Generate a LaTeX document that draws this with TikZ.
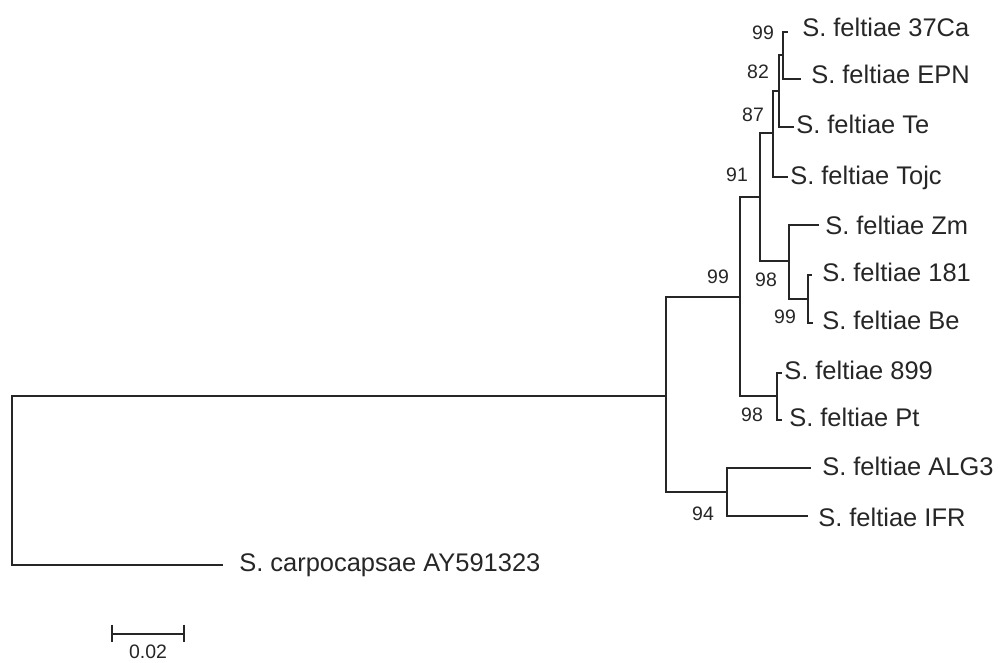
\documentclass[tikz,border=0pt]{standalone}
\usepackage{fontspec}
\setmainfont{Liberation Sans}
\begin{document}
\begin{tikzpicture}[x=0.75pt,y=-0.75pt,
  branch/.style={draw=black!85,line width=1.4pt,line cap=rect},
  leaf/.style={anchor=base west,inner sep=0pt,text=black!85,font=\fontsize{19.1}{23}\selectfont},
  boot/.style={anchor=center,inner sep=0pt,text=black!85,font=\fontsize{14.6}{17}\selectfont}]
\useasboundingbox (0,0) rectangle (1002,663);
% internal nodes
\coordinate (R) at (12,480);
\coordinate (A) at (666,396);
\coordinate (B) at (740,297);
\coordinate (N91) at (760,197);
\coordinate (N87) at (773,133);
\coordinate (N82) at (779,91);
\coordinate (N99a) at (783,55);
\coordinate (N98) at (789,261);
\coordinate (N99b) at (808,299);
\coordinate (N98b) at (777,396);
\coordinate (N94) at (727,492);
% tips
\coordinate (tCa) at (787,32);
\coordinate (tEPN) at (800,79);
\coordinate (tTe) at (793,127);
\coordinate (tTojc) at (787,177);
\coordinate (tZm) at (818,225);
\coordinate (t181) at (811,275);
\coordinate (tBe) at (812,323);
\coordinate (t899) at (781,373);
\coordinate (tPt) at (781,420);
\coordinate (tALG) at (810,468);
\coordinate (tIFR) at (807,516);
\coordinate (tCarp) at (222,565);
% branches
\draw[branch] (R) |- (A);
\draw[branch] (R) |- (tCarp);
\draw[branch] (A) |- (B);
\draw[branch] (A) |- (N94);
\draw[branch] (B) |- (N91);
\draw[branch] (B) |- (N98b);
\draw[branch] (N91) |- (N87);
\draw[branch] (N91) |- (N98);
\draw[branch] (N87) |- (N82);
\draw[branch] (N87) |- (tTojc);
\draw[branch] (N82) |- (N99a);
\draw[branch] (N82) |- (tTe);
\draw[branch] (N99a) |- (tCa);
\draw[branch] (N99a) |- (tEPN);
\draw[branch] (N98) |- (tZm);
\draw[branch] (N98) |- (N99b);
\draw[branch] (N99b) |- (t181);
\draw[branch] (N99b) |- (tBe);
\draw[branch] (N98b) |- (t899);
\draw[branch] (N98b) |- (tPt);
\draw[branch] (N94) |- (tALG);
\draw[branch] (N94) |- (tIFR);
% leaf labels
\node[leaf] (lCa) at (802,37) {S. feltiae 37Ca};
\node[leaf] (lEPN) at (811,84) {S. feltiae EPN};
\node[leaf] (lTe) at (796,134) {S. feltiae Te};
\node[leaf] (lTojc) at (790,184) {S. feltiae Tojc};
\node[leaf] (lZm) at (825,234) {S. feltiae Zm};
\node[leaf] (l181) at (822,281) {S. feltiae 181};
\node[leaf] (lBe) at (822,329) {S. feltiae Be};
\node[leaf] (l899) at (784,379) {S. feltiae 899};
\node[leaf] (lPt) at (789,426) {S. feltiae Pt};
\node[leaf] (lALG) at (822,475) {S. feltiae ALG3};
\node[leaf] (lIFR) at (818,526) {S. feltiae IFR};
\node[leaf] (lCarp) at (239,571) {S. carpocapsae AY591323};
% bootstrap values
\node[boot] (b99a) at (763,33) {99};
\node[boot] (b82) at (758,72) {82};
\node[boot] (b87) at (753,115) {87};
\node[boot] (b91) at (737,175) {91};
\node[boot] (b99m) at (718,277) {99};
\node[boot] (b98) at (766,280) {98};
\node[boot] (b99b) at (785,317) {99};
\node[boot] (b98b) at (752,415) {98};
\node[boot] (b94) at (703,514) {94};
% scale bar
\coordinate (s1) at (112,634);
\coordinate (s2) at (184,634);
\draw[branch,line cap=butt] (s1) -- (s2);
\draw[branch,line cap=butt] ([yshift=7pt]s1) -- ([yshift=-6pt]s1);
\draw[branch,line cap=butt] ([yshift=7pt]s2) -- ([yshift=-6pt]s2);
\node[boot] (sl) at (148,652) {0.02};
\end{tikzpicture}
\end{document}
